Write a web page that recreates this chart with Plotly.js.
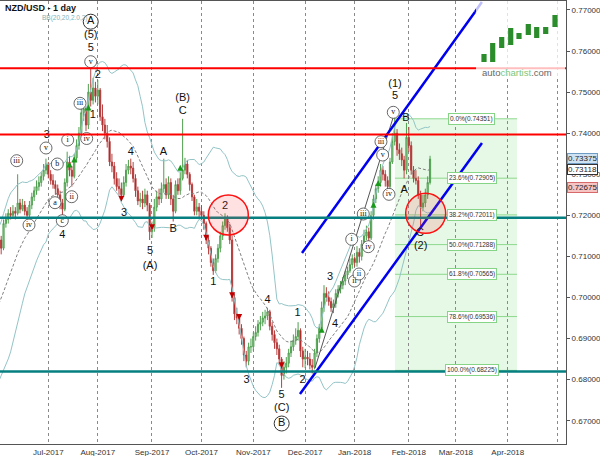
<!DOCTYPE html>
<html><head><meta charset="utf-8">
<script src="https://cdn.plot.ly/plotly-3.0.1.min.js"></script>
<style>html,body{margin:0;padding:0;background:#fff;}#chart{width:600px;height:456px;}</style>
</head><body><div id="chart"></div>
<script>
// ---- data (day index 1 = 2 Jun 2017, trading days only) ----
const priorClose = [.6845,.6860,.6850,.6870,.6880,.6895,.6880,.6905,.6930,.6950,.6970,.6990,.7030,.7050,.7040,.7060,.7080,.7090,.7100,.7110];
const openP = [
.7110,.7140,.7120,.7180,.7190,.7205,.7200,.7210,.7205,.7230,.7215,.7225,.7210,.7200,.7225,.7245,.7260,.7270,.7280,.7295,.7310,
.7325,.7300,.7285,.7275,.7265,.7250,.7230,.7215,.7280,.7330,.7310,.7295,.7340,.7370,.7400,.7450,.7460,.7420,.7500,
.7480,.7510,.7490,.7505,.7440,.7420,.7400,.7380,.7330,.7320,.7290,.7270,.7265,.7250,.7280,.7310,.7320,.7315,.7290,.7260,.7235,.7240,.7230,.7250,.7225,
.7160,.7170,.7220,.7245,.7240,.7265,.7275,.7250,.7280,.7240,.7210,.7275,.7260,.7290,.7310,.7325,.7300,.7275,.7245,.7210,.7220,
.7210,.7200,.7180,.7140,.7120,.7085,.7065,.7095,.7120,.7150,.7175,.7195,.7170,.7140,.7000,.6960,.6950,.6925,.6900,.6860,.6845,.6880,
.6880,.6905,.6915,.6935,.6940,.6950,.6955,.6965,.6930,.6910,.6890,.6875,.6850,.6810,.6830,.6840,.6865,.6880,.6895,.6905,.6920,.6870,
.6850,.6855,.6850,.6835,.6830,.6865,.6900,.6925,.6975,.7010,.7000,.6990,.6975,.6985,.7010,.7020,.7030,.7040,.7055,.7065,.7080,
.7095,.7085,.7110,.7100,.7130,.7150,.7160,.7145,.7200,.7240,.7265,.7280,.7310,.7300,.7285,.7270,.7330,.7380,.7400,.7360,.7350,.7335,.7310,
.7390,.7370,.7310,.7290,.7285,.7250,.7220,.7230,.7250,.7280];
const highP = [
.7155,.7150,.7190,.7205,.7215,.7220,.7225,.7220,.7300,.7240,.7240,.7235,.7220,.7235,.7255,.7270,.7285,.7295,.7305,.7325,.7338,
.7330,.7310,.7300,.7285,.7275,.7260,.7240,.7290,.7355,.7345,.7320,.7350,.7385,.7415,.7475,.7485,.7465,.7520,.7558,
.7535,.7525,.7530,.7510,.7470,.7435,.7420,.7390,.7350,.7330,.7305,.7290,.7280,.7295,.7325,.7335,.7338,.7330,.7300,.7270,.7255,.7260,.7265,.7260,.7230,
.7185,.7240,.7260,.7265,.7280,.7338,.7290,.7295,.7290,.7250,.7285,.7290,.7305,.7435,.7340,.7335,.7305,.7280,.7250,.7240,.7230,
.7225,.7210,.7185,.7150,.7125,.7095,.7105,.7130,.7160,.7185,.7205,.7200,.7180,.7150,.7010,.6975,.6960,.6935,.6905,.6870,.6890,.6900,
.6915,.6930,.6945,.6955,.6965,.6970,.6975,.6970,.6940,.6920,.6900,.6885,.6855,.6845,.6855,.6875,.6895,.6910,.6925,.6940,.6925,.6880,
.6875,.6870,.6865,.6850,.6875,.6910,.6935,.6990,.7030,.7025,.7015,.7000,.6995,.7020,.7030,.7040,.7050,.7065,.7075,.7095,.7105,
.7100,.7125,.7120,.7140,.7165,.7175,.7170,.7210,.7250,.7275,.7295,.7325,.7320,.7310,.7295,.7340,.7400,.7437,.7410,.7375,.7365,.7345,.7425,
.7415,.7380,.7320,.7310,.7295,.7260,.7250,.7265,.7295,.7345];
const lowP = [
.7100,.7105,.7115,.7170,.7180,.7190,.7195,.7190,.7200,.7205,.7210,.7200,.7190,.7195,.7215,.7235,.7250,.7260,.7270,.7285,.7300,
.7290,.7275,.7265,.7250,.7240,.7215,.7195,.7210,.7270,.7295,.7270,.7290,.7330,.7360,.7395,.7430,.7405,.7410,.7465,
.7470,.7475,.7470,.7430,.7405,.7385,.7365,.7320,.7305,.7275,.7260,.7250,.7240,.7245,.7270,.7300,.7300,.7280,.7245,.7225,.7220,.7215,.7220,.7210,.7140,
.7145,.7160,.7210,.7225,.7230,.7255,.7240,.7240,.7225,.7185,.7205,.7250,.7250,.7285,.7300,.7290,.7260,.7235,.7200,.7200,.7195,
.7190,.7165,.7130,.7105,.7075,.7055,.7060,.7085,.7110,.7140,.7165,.7160,.7130,.6990,.6945,.6935,.6910,.6885,.6845,.6830,.6835,.6865,
.6870,.6895,.6905,.6920,.6930,.6935,.6945,.6920,.6895,.6875,.6860,.6835,.6780,.6800,.6815,.6830,.6855,.6870,.6885,.6895,.6855,.6830,
.6828,.6835,.6825,.6815,.6825,.6855,.6890,.6920,.6965,.6990,.6980,.6965,.6962,.6975,.7000,.7010,.7020,.7030,.7045,.7060,.7070,
.7075,.7075,.7085,.7090,.7120,.7140,.7135,.7140,.7190,.7230,.7255,.7270,.7285,.7270,.7260,.7265,.7325,.7370,.7345,.7335,.7320,.7290,.7300,
.7355,.7300,.7280,.7275,.7240,.7170,.7210,.7220,.7240,.7275];
const closeP = [
.7140,.7120,.7180,.7190,.7205,.7200,.7210,.7205,.7230,.7215,.7225,.7210,.7200,.7225,.7245,.7260,.7270,.7280,.7295,.7310,.7325,
.7300,.7285,.7275,.7265,.7250,.7230,.7215,.7280,.7330,.7310,.7295,.7340,.7370,.7400,.7450,.7460,.7420,.7500,.7480,
.7510,.7490,.7505,.7440,.7420,.7400,.7380,.7330,.7320,.7290,.7270,.7265,.7250,.7280,.7310,.7320,.7315,.7290,.7260,.7235,.7240,.7230,.7250,.7225,.7160,
.7170,.7220,.7245,.7240,.7265,.7275,.7250,.7280,.7240,.7210,.7275,.7260,.7290,.7310,.7325,.7300,.7275,.7245,.7210,.7220,.7210,
.7200,.7180,.7140,.7120,.7085,.7065,.7095,.7120,.7150,.7175,.7195,.7170,.7140,.7000,.6960,.6950,.6925,.6900,.6860,.6845,.6880,.6880,
.6905,.6915,.6935,.6940,.6950,.6955,.6965,.6930,.6910,.6890,.6875,.6850,.6810,.6830,.6840,.6865,.6880,.6895,.6905,.6920,.6870,.6850,
.6855,.6850,.6835,.6830,.6865,.6900,.6925,.6975,.7010,.7000,.6990,.6975,.6985,.7010,.7020,.7030,.7040,.7055,.7065,.7080,.7095,
.7085,.7110,.7100,.7130,.7150,.7160,.7145,.7200,.7240,.7265,.7280,.7310,.7300,.7285,.7270,.7330,.7380,.7400,.7360,.7350,.7335,.7310,.7390,
.7370,.7310,.7290,.7285,.7250,.7220,.7230,.7250,.7280,.7337];

const monthStartIdx = [22,43,66,87,109,131,152,175,195,217,238];
const monthLabels = ['Jul-2017','Aug-2017','Sep-2017','Oct-2017','Nov-2017','Dec-2017','Jan-2018','Feb-2018','Mar-2018','Apr-2018',''];

const redLevels = [0.7558, 0.7397];
const tealLevels = [0.7194, 0.6820];

const fibPct = [0, 23.6, 38.2, 50, 61.8, 78.6, 100];
const fibPrice = [0.74351, 0.72905, 0.72011, 0.71288, 0.70565, 0.69536, 0.68225];
const fibStartIdx = 169.1, fibEndIdx = 220.9, fibLabelIdx = 201.8;

const chanUpperIdx = [129.66, 203.07], chanUpperPrice = [0.71083, 0.76951];
const chanUpperFadeIdx = [203.07, 206.0], chanUpperFadePrice = [0.76951, 0.77195];
const chanLowerIdx = [128.8, 206.04], chanLowerPrice = [0.6765, 0.73762];
const waveLineIdx = [135.17, 168.27], waveLinePrice = [0.68283, 0.7437];

const zoneIdx = [98.39, 182.15], zonePrice = [0.72009, 0.7205];

const plainText  = ['(5)','5','2','1','3','(B)','C','A','4','3','4','B','5','(A)','2','1','4','3','5','(C)','1','2','3','4','5','(1)','B','A','C','(2)'];
const plainIdx   = [40.0,40.0,42.96,40.84,21.32,79.03,79.03,70.8,56.97,54.12,27.94,75.04,65.16,65.16,96.98,92.02,115.1,106.1,121.04,121.04,127.83,129.95,141.54,143.66,169.12,169.12,173.79,173.07,179.73,180.03];
const plainPrice = [.76396,.76067,.75417,.74426,.73956,.7485,.74524,.73525,.73525,.7205,.71522,.7166,.71132,.70767,.72211,.7036,.69939,.67991,.67626,.67297,.6961,.67991,.70499,.69354,.74889,.75186,.74363,.72617,.71563,.71237];

const circText  = ['v','iii','i','iv','v','iii','b','a','ii','iv','c','i','ii','ii','iii','iv','v','iii','iv','v'];
const circIdx   = [40.0,35.45,30.23,38.29,21.02,8.59,25.82,24.84,31.93,13.81,27.94,150.75,151.94,153.85,155.67,157.79,163.9,163.18,166.58,168.4];
const circPrice = [.75741,.74728,.73835,.73871,.7364,.73331,.7325,.72308,.72454,.71765,.7187,.71417,.70401,.70572,.72033,.71237,.73469,.73793,.72512,.74509];

const bigCircText = ['A','B'], bigCircIdx = [40.0,121.04], bigCircPrice = [.76715,.66932];

const upSignalIdx = [31,33,39,78,138,160,162], upSignalPrice = [.7331,.7343,.7470,.7323,.6929,.7233,.7286];
const dnSignalIdx = [53,66,89,100,103,121], dnSignalPrice = [.7233,.7164,.7138,.6998,.6945,.6828];

const priceTags = [0.73375, 0.73118, 0.72675];

// ---- derived ----
const dayIdx = closeP.map((_, k) => k + 1);
const allClose = priorClose.concat(closeP);
const bbMid = [], bbUp = [], bbLo = [];
for (let k = 0; k < closeP.length; k++) {
  const end = k + priorClose.length;
  const win = allClose.slice(end - 19, end + 1);
  const m = win.reduce((a, b) => a + b, 0) / win.length;
  const sd = Math.sqrt(win.reduce((a, b) => a + (b - m) * (b - m), 0) / win.length);
  bbMid.push(m); bbUp.push(m + 2 * sd); bbLo.push(m - 2 * sd);
}

const W = 566, H = 443;
const px = x => x / W, py = y => 1 - (y - 1) / H;

const traces = [];
traces.push({type:'scatter', x: dayIdx, y: bbUp, mode:'lines', line:{color:'#93c4c6', width:1}, hoverinfo:'skip'});
traces.push({type:'scatter', x: dayIdx, y: bbLo, mode:'lines', line:{color:'#93c4c6', width:1}, hoverinfo:'skip'});
traces.push({type:'scatter', x: dayIdx, y: bbMid, mode:'lines', line:{color:'#808080', width:1, dash:'3px,2px'}, hoverinfo:'skip'});
traces.push({type:'candlestick', x: dayIdx, open: openP, high: highP, low: lowP, close: closeP,
  increasing:{line:{color:'#4f9f4f', width:1}, fillcolor:'#a6d9a6'},
  decreasing:{line:{color:'#b84040', width:1}, fillcolor:'#a00000'},
  whiskerwidth:0, hoverinfo:'skip'});
traces.push({type:'scatter', x: waveLineIdx, y: waveLinePrice, mode:'lines', line:{color:'#555', width:1}, hoverinfo:'skip'});
traces.push({type:'scatter', x: chanUpperIdx, y: chanUpperPrice, mode:'lines', line:{color:'#0000f0', width:2.5}, hoverinfo:'skip'});
traces.push({type:'scatter', x: chanUpperFadeIdx, y: chanUpperFadePrice, mode:'lines', line:{color:'#0000f0', width:2.5}, hoverinfo:'skip'});
traces.push({type:'scatter', x: chanLowerIdx, y: chanLowerPrice, mode:'lines', line:{color:'#0000f0', width:2.5}, hoverinfo:'skip'});
traces.push({type:'scatter', x: upSignalIdx, y: upSignalPrice, mode:'markers', marker:{symbol:'arrow-up', size:6, color:'#1a9a1a'}, hoverinfo:'skip'});
traces.push({type:'scatter', x: dnSignalIdx, y: dnSignalPrice, mode:'markers', marker:{symbol:'arrow-down', size:6, color:'#c00000'}, hoverinfo:'skip'});
traces.push({type:'scatter', x: plainIdx, y: plainPrice, text: plainText, mode:'text', textposition:'middle center',
  textfont:{family:'Liberation Sans, Arial', size:11, color:'#111'}, hoverinfo:'skip', cliponaxis:false});
traces.push({type:'scatter', x: circIdx, y: circPrice, text: circText, mode:'markers+text', textposition:'middle center',
  marker:{size:12, color:'#fff', line:{color:'#444', width:0.8}},
  textfont:{family:'Liberation Serif, Times New Roman', size:8, color:'#111'}, hoverinfo:'skip'});
traces.push({type:'scatter', x: bigCircIdx, y: bigCircPrice, text: bigCircText, mode:'markers+text', textposition:'middle center',
  marker:{size:15, color:'#fff', line:{color:'#333', width:1}},
  textfont:{family:'Liberation Sans, Arial', size:11, color:'#111'}, hoverinfo:'skip', cliponaxis:false});

const shapes = [];
shapes.push({type:'rect', xref:'x', yref:'y', x0: fibStartIdx, x1: fibEndIdx, y0: fibPrice[fibPrice.length-1], y1: fibPrice[0],
  fillcolor:'rgba(150,228,150,0.24)', line:{width:0}, layer:'below'});
fibPrice.forEach(p => shapes.push({type:'line', xref:'x', yref:'y', x0: fibStartIdx, x1: fibEndIdx, y0:p, y1:p, line:{color:'#8ed88e', width:1}, layer:'below'}));
redLevels.forEach(p => shapes.push({type:'line', xref:'paper', yref:'y', x0:0, x1:1, y0:p, y1:p, line:{color:'#ff0000', width:2}}));
tealLevels.forEach(p => shapes.push({type:'line', xref:'paper', yref:'y', x0:0, x1:1, y0:p, y1:p, line:{color:'#067f80', width:2.5}}));
zoneIdx.forEach((xi, k) => shapes.push({type:'circle', xref:'x', yref:'y', xsizemode:'pixel', ysizemode:'pixel',
  xanchor: xi, yanchor: zonePrice[k], x0:-20, x1:20, y0:-20, y1:20,
  fillcolor:'rgba(255,70,70,0.16)', line:{color:'#ff1010', width:1.5}}));
shapes.push({type:'rect', xref:'paper', yref:'paper', x0:px(476), x1:px(565), y0:py(77), y1:py(1), fillcolor:'rgba(255,255,255,0.75)', line:{width:0}});
[[484,54,62],[492.7,43,62],[501.7,37,48],[510.7,28,45],[519,33,39],[528.3,24,35],[536.7,27,38],[545.7,27,34],[555,15,27]].forEach(b => {
  shapes.push({type:'rect', xref:'paper', yref:'paper', x0:px(b[0]-2.6), x1:px(b[0]+2.6), y0:py(b[2]), y1:py(b[1]), fillcolor:'#2b8c2b', line:{width:0}});
});

const annotations = [];
annotations.push({xref:'paper', yref:'paper', x:px(3), y:py(8), xanchor:'left', yanchor:'middle', showarrow:false,
  text:'<b>NZD/USD - 1 day</b>', font:{family:'Liberation Sans, Arial', size:9, color:'#111'}});
annotations.push({xref:'paper', yref:'paper', x:px(40), y:py(18), xanchor:'left', yanchor:'middle', showarrow:false,
  text:'BB(20,20,2.0,2)', font:{family:'Liberation Sans, Arial', size:6.5, color:'#7fb3bb'}});
annotations.push({xref:'paper', yref:'paper', x:px(517), y:py(72), xanchor:'center', yanchor:'middle', showarrow:false,
  text:'<span style="color:#666">auto</span><span style="color:#7cc77c">chartist</span><span style="color:#666">.com</span>',
  font:{family:'Liberation Sans, Arial', size:9.5}});
fibPct.forEach((pc, k) => annotations.push({xref:'x', yref:'y', x: fibLabelIdx, y: fibPrice[k], showarrow:false,
  text: pc.toFixed(1) + '%(' + fibPrice[k].toFixed(5) + ')', font:{family:'Liberation Sans, Arial', size:6.5, color:'#333'},
  bgcolor:'#fff', bordercolor:'#86d486', borderwidth:1, borderpad:1}));
const tagStyle = [{bg:'#cfe2f2', bd:'#6f9cc4'}, {bg:'#ffffff', bd:'#333333'}, {bg:'#f7c4c4', bd:'#d66a6a'}];
priceTags.forEach((p, k) => annotations.push({xref:'paper', yref:'y', x:1, y:p, xanchor:'left', xshift:1, showarrow:false,
  text: p.toFixed(5), font:{family:'Liberation Sans, Arial', size:8, color:'#222'},
  bgcolor: tagStyle[k].bg, bordercolor: tagStyle[k].bd, borderwidth:1, borderpad:0}));

const layout = {
  width:600, height:456, margin:{l:0, r:34, t:1, b:12},
  paper_bgcolor:'#fff', plot_bgcolor:'#fff', showlegend:false,
  font:{family:'Liberation Sans, Arial', size:8, color:'#333'},
  xaxis:{type:'linear', range:[1.5, 241.7], tickvals: monthStartIdx, ticktext: monthLabels,
    showgrid:true, gridcolor:'#8a8a8a', griddash:'dot', gridwidth:1, zeroline:false,
    showline:true, linecolor:'#555', mirror:true, ticks:'', tickfont:{size:8, color:'#333'}, rangeslider:{visible:false}, fixedrange:true},
  yaxis:{side:'right', range:[0.66433, 0.77219], dtick:0.01, tick0:0.67, tickformat:'.5f',
    showgrid:false, zeroline:false, showline:true, linecolor:'#555', mirror:true,
    ticks:'outside', ticklen:3, tickcolor:'#555', tickfont:{size:8, color:'#333'}, fixedrange:true},
  shapes: shapes, annotations: annotations
};
Plotly.newPlot('chart', traces, layout, {displayModeBar:false, staticPlot:true});
</script></body></html>
